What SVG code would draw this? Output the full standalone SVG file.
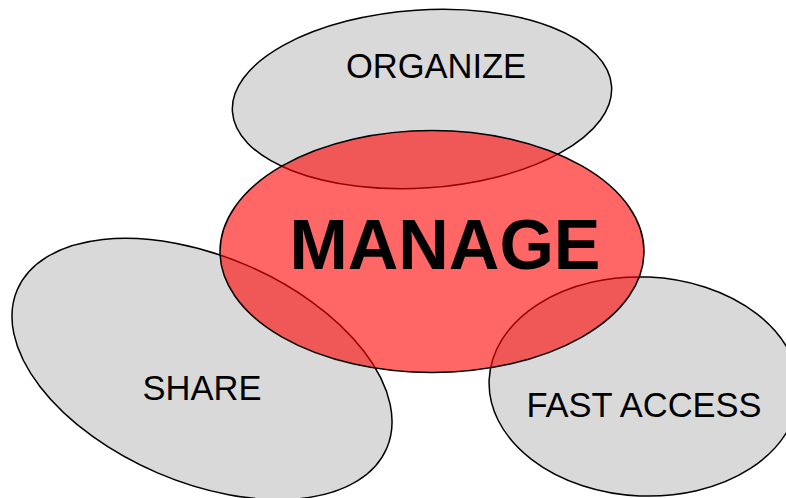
<svg xmlns="http://www.w3.org/2000/svg" width="786" height="498" viewBox="0 0 786 498">
<style>
.sat{fill:#d9d9d9;stroke:#000;stroke-width:1.5}
.core{fill:#ff0000;fill-opacity:0.6;stroke:#000;stroke-width:1.5}
.lbl{font-family:"Liberation Sans",Arial,sans-serif;font-size:34.5px;fill:#000;text-anchor:middle}
.big{font-family:"Liberation Sans",Arial,sans-serif;font-size:70px;font-weight:bold;fill:#000;text-anchor:middle}
</style>
<rect width="786" height="498" fill="#fff"/>
<g id="organize">
<ellipse class="sat" cx="422" cy="99" rx="190" ry="89" transform="rotate(-3.8 422 99)"/>
<text class="lbl" x="436" y="78">ORGANIZE</text>
</g>
<g id="share">
<ellipse class="sat" cx="202" cy="369" rx="201" ry="113" transform="rotate(23.2 202 369)"/>
<text class="lbl" x="202" y="400">SHARE</text>
</g>
<g id="fast-access">
<ellipse class="sat" cx="644" cy="386.5" rx="155" ry="109.5" transform="rotate(2.5 644 386.5)"/>
<text class="lbl" x="644" y="417">FAST ACCESS</text>
</g>
<g id="manage">
<ellipse class="core" cx="432" cy="251.5" rx="212" ry="121"/>
<text class="big" x="445" y="269">MANAGE</text>
</g>
<g id="connectors"/>
</svg>
